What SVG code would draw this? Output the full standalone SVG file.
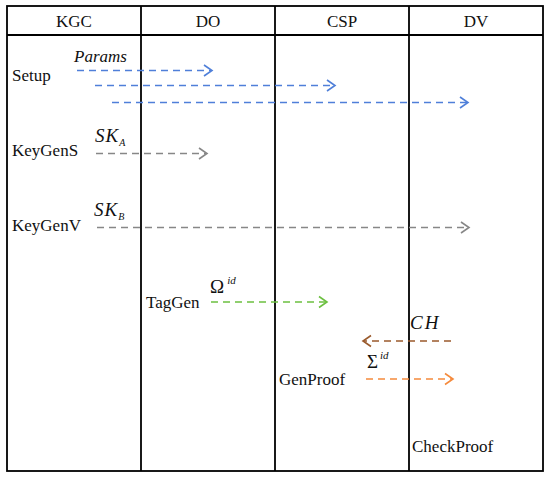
<svg xmlns="http://www.w3.org/2000/svg" width="550" height="478" viewBox="0 0 550 478">
<defs>
<style>
.t{font-family:"Liberation Serif","Times New Roman",serif;font-size:17px;fill:#111}
.h{font-family:"Liberation Serif","Times New Roman",serif;font-size:17px;fill:#111;text-anchor:middle}
.m{font-family:"Liberation Serif","Times New Roman",serif;font-style:italic;fill:#111}
.g{stroke:#000;stroke-width:1.8;fill:none}
.c{fill:none;stroke-width:1.6;stroke-dasharray:7 5}
.ah{fill:none;stroke-width:1.6}
</style>
</defs>
<rect width="550" height="478" fill="#fff"/>
<g id="frame">
<rect class="g" x="7" y="6" width="536" height="465"/>
<line class="g" x1="7" y1="35" x2="543" y2="35"/>
<line class="g" x1="141" y1="6" x2="141" y2="471"/>
<line class="g" x1="275" y1="6" x2="275" y2="471"/>
<line class="g" x1="409" y1="6" x2="409" y2="471"/>
</g>
<g id="headers">
<text class="h" x="74" y="27">KGC</text>
<text class="h" x="208" y="27">DO</text>
<text class="h" x="342" y="27">CSP</text>
<text class="h" x="476" y="27">DV</text>
</g>
<g id="setup"><text class="t" x="12" y="81">Setup</text></g>
<g id="keygens"><text class="t" x="12" y="156">KeyGenS</text></g>
<g id="keygenv"><text class="t" x="12" y="231">KeyGenV</text></g>
<g id="taggen"><text class="t" x="146" y="308">TagGen</text></g>
<g id="genproof"><text class="t" x="279" y="385">GenProof</text></g>
<g id="checkproof"><text class="t" x="412" y="452">CheckProof</text></g>
<g id="connectors">
<g stroke="#4F7FD9">
<line class="c" x1="77" y1="70.5" x2="211" y2="70.5"/>
<polyline class="ah" points="204,65 212,70.5 204,76"/>
<line class="c" x1="95" y1="85.5" x2="334" y2="85.5"/>
<polyline class="ah" points="327,80 335,85.5 327,91"/>
<line class="c" x1="112" y1="102.5" x2="467" y2="102.5"/>
<polyline class="ah" points="460,97 468,102.5 460,108"/>
</g>
<g stroke="#878787">
<line class="c" x1="96" y1="153.5" x2="206" y2="153.5"/>
<polyline class="ah" points="199,148 207,153.5 199,159"/>
<line class="c" x1="97" y1="227.5" x2="468" y2="227.5"/>
<polyline class="ah" points="461,222 469,227.5 461,233"/>
</g>
<g stroke="#6CC040">
<line class="c" x1="211" y1="302" x2="326" y2="302"/>
<polyline class="ah" points="319,296.5 327,302 319,307.5"/>
</g>
<g stroke="#9A5A2C">
<line class="c" x1="451" y1="341" x2="364" y2="341"/>
<polyline class="ah" points="371,335.5 363,341 371,346.5"/>
</g>
<g stroke="#F58A3C">
<line class="c" x1="366" y1="379" x2="452" y2="379"/>
<polyline class="ah" points="445,373.5 453,379 445,384.5"/>
</g>
</g>
<g id="labels">
<text class="m" x="74" y="62" font-size="17">Params</text>
<text class="m" x="95" y="142" font-size="19" letter-spacing="1">SK<tspan font-size="10" dy="4">A</tspan></text>
<text class="m" x="94" y="216" font-size="19" letter-spacing="1">SK<tspan font-size="10" dy="4">B</tspan></text>
<text x="210" y="293" font-family="Liberation Serif,serif" font-size="19" fill="#111">Ω<tspan class="m" font-size="11" dx="3" dy="-9">id</tspan></text>
<text class="m" x="410" y="329" font-size="19" letter-spacing="2">CH</text>
<text x="367" y="368" font-family="Liberation Serif,serif" font-size="19" fill="#111">Σ<tspan class="m" font-size="11" dx="2" dy="-9">id</tspan></text>
</g>
</svg>
